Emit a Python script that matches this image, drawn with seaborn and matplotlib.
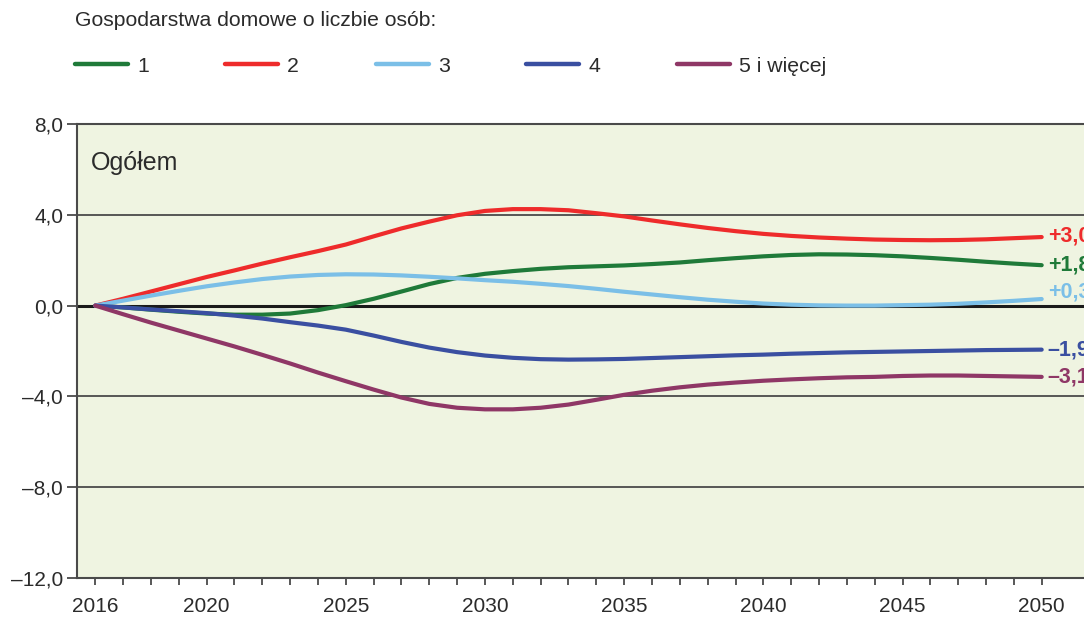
import numpy as np
import pandas as pd
import matplotlib
matplotlib.use("Agg")
import matplotlib.pyplot as plt
from matplotlib.ticker import FuncFormatter, FixedLocator
from matplotlib.lines import Line2D
import seaborn as sns

years = list(range(2016, 2051))

s1 = [0, -0.08, -0.18, -0.27, -0.35, -0.40, -0.40, -0.35, -0.20, 0.02,
      0.30, 0.62, 0.95, 1.22, 1.40, 1.52, 1.62, 1.69, 1.73, 1.77,
      1.83, 1.90, 2.00, 2.09, 2.17, 2.23, 2.26, 2.25, 2.22, 2.17,
      2.10, 2.02, 1.93, 1.85, 1.78]
s2 = [0, 0.30, 0.62, 0.94, 1.26, 1.55, 1.85, 2.13, 2.40, 2.69,
      3.05, 3.40, 3.70, 3.98, 4.17, 4.25, 4.25, 4.20, 4.07, 3.93,
      3.75, 3.58, 3.42, 3.28, 3.16, 3.07, 3.00, 2.95, 2.91, 2.89,
      2.88, 2.89, 2.92, 2.97, 3.02]
s3 = [0, 0.22, 0.44, 0.65, 0.85, 1.02, 1.17, 1.28, 1.35, 1.38,
      1.37, 1.33, 1.27, 1.20, 1.12, 1.05, 0.96, 0.86, 0.74, 0.61,
      0.49, 0.37, 0.26, 0.17, 0.09, 0.04, 0.01, 0.00, 0.00, 0.02,
      0.04, 0.08, 0.14, 0.21, 0.29]
s4 = [0, -0.08, -0.17, -0.25, -0.33, -0.44, -0.57, -0.73, -0.88, -1.06,
      -1.32, -1.60, -1.85, -2.05, -2.20, -2.30, -2.36, -2.38, -2.37, -2.35,
      -2.31, -2.27, -2.23, -2.19, -2.16, -2.12, -2.09, -2.06, -2.04, -2.02,
      -2.00, -1.98, -1.96, -1.95, -1.94]
s5 = [0, -0.38, -0.75, -1.10, -1.45, -1.80, -2.17, -2.55, -2.95, -3.33,
      -3.70, -4.05, -4.33, -4.50, -4.57, -4.57, -4.50, -4.36, -4.15, -3.93,
      -3.75, -3.60, -3.48, -3.39, -3.31, -3.25, -3.20, -3.16, -3.14, -3.10,
      -3.08, -3.08, -3.10, -3.12, -3.14]

series_names = ["1", "2", "3", "4", "5 i więcej"]
series_values = [s1, s2, s3, s4, s5]
end_labels = ["+1,8", "+3,0", "+0,3", "\u20131,9", "\u20133,1"]
colors = ["#1f7a39", "#ee2b2b", "#7bbfe7", "#3a4fa1", "#8f3766"]

legend_title = "Gospodarstwa domowe o liczbie osób:"
panel_title = "Ogółem"
y_ticks = [8, 4, 0, -4, -8, -12]
x_label_years = [2016, 2020, 2025, 2030, 2035, 2040, 2045, 2050]

df = pd.DataFrame({
    "rok": np.tile(years, len(series_names)),
    "wartosc": np.concatenate(series_values),
    "grupa": np.repeat(series_names, len(years)),
})

sns.set_theme(style="white")
plt.rcParams["font.family"] = ["Liberation Sans", "DejaVu Sans"]

fig = plt.figure(figsize=(10.84, 6.18), dpi=100)
ax = fig.add_axes([77 / 1084, 40 / 618, 1 - 77 / 1084, (578 - 124) / 618])
ax.set_facecolor("#eff4e1")

for yv in [4, -4, -8]:
    ax.axhline(yv, color="#4a4a4a", lw=1.3, zorder=1)
ax.axhline(0, color="#1a1a1a", lw=2.2, zorder=1)

sns.lineplot(data=df, x="rok", y="wartosc", hue="grupa", palette=colors,
             hue_order=series_names, lw=3.0, ax=ax, legend=False, zorder=3)

ax.set_xlim(2015.343, 2051.52)
ax.set_ylim(-12, 8)
ax.set_xlabel("")
ax.set_ylabel("")

ax.yaxis.set_major_locator(FixedLocator(y_ticks))
ax.yaxis.set_major_formatter(FuncFormatter(
    lambda v, p: ("\u2013" if v < 0 else "") + f"{abs(v):.1f}".replace(".", ",")))
ax.xaxis.set_major_locator(FixedLocator(years))
ax.xaxis.set_major_formatter(FuncFormatter(
    lambda v, p: str(int(round(v))) if int(round(v)) in x_label_years else ""))

for side in ["left", "bottom", "top"]:
    ax.spines[side].set_visible(True)
    ax.spines[side].set_color("#4a4a4a")
    ax.spines[side].set_linewidth(1.5)
ax.spines["right"].set_visible(False)

ax.tick_params(axis="y", direction="out", length=7, width=1.3, color="#4a4a4a",
               labelsize=15, labelcolor="#2b2b2b", pad=3, left=True)
ax.tick_params(axis="x", direction="out", length=5, width=1.3, color="#4a4a4a",
               labelsize=15, labelcolor="#2b2b2b", pad=9, bottom=True)

ax.text(2015.85, 6.3, panel_title, fontsize=18, color="#2b2b2b", va="center", ha="left")

label_offsets = [0, 0.05, 0.3, 0, 0]
for vals, lab, c, off in zip(series_values, end_labels, colors, label_offsets):
    ax.text(2050.22, vals[-1] + off, lab, color=c, fontsize=15.5, fontweight="bold",
            va="center", ha="left", clip_on=False)

fig.text(75 / 1084, 1 - 20 / 618, legend_title, fontsize=15.2, color="#2b2b2b",
         va="center", ha="left")

handles = [Line2D([0], [0], color=c, lw=3.2) for c in colors]
fig.legend(handles, series_names, loc="center left",
           bbox_to_anchor=(75 / 1084, 1 - 66 / 618), ncol=5, frameon=False,
           fontsize=15.3, handlelength=2.5, handletextpad=0.42, columnspacing=3.6,
           borderaxespad=0, borderpad=0, labelcolor="#2b2b2b")

fig.savefig("out.png", dpi=100, facecolor="white")
